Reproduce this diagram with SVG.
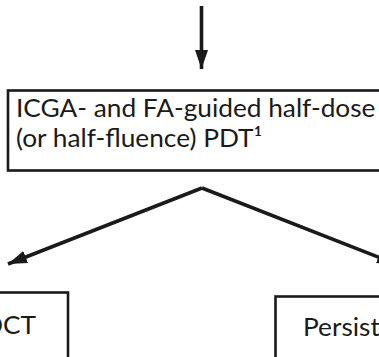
<svg xmlns="http://www.w3.org/2000/svg" width="379" height="357" viewBox="0 0 379 357">
  <style>
    .box { fill: #ffffff; stroke: #1a1a1a; stroke-width: 2.6; }
    .lbl { font-family: Lato, "Open Sans", "Liberation Sans", sans-serif; font-size: 25px; fill: #1a1a1a; }
    .edge { fill: none; stroke: #1a1a1a; stroke-width: 3.6; stroke-linecap: butt; }
  </style>
  <defs>
    <marker id="head" markerUnits="userSpaceOnUse" markerWidth="20" markerHeight="14" refX="19" refY="7" orient="auto">
      <path d="M0,0.5 L19,7 L0,13.5 Z" fill="#1a1a1a"/>
    </marker>
  </defs>
  <rect width="379" height="357" fill="#ffffff"/>

  <g id="connectors">
    <line class="edge" x1="201.5" y1="6" x2="201.5" y2="69" marker-end="url(#head)"/>
    <line class="edge" x1="202" y1="188" x2="8" y2="264" marker-end="url(#head)"/>
    <line class="edge" x1="202" y1="188" x2="396" y2="264" marker-end="url(#head)"/>
  </g>

  <g id="pdt">
    <rect class="box" x="8" y="90.5" width="400" height="80"/>
    <text class="lbl" transform="translate(16,117) scale(1.05,1)">ICGA- and FA-guided half-dose</text>
    <text class="lbl" transform="translate(16,147) scale(1.05,1)">(or half-fluence) PDT¹</text>
  </g>

  <g id="oct">
    <rect class="box" x="-40" y="292.5" width="108" height="80"/>
    <text class="lbl" text-anchor="end" transform="translate(36,334) scale(1.05,1)">OCT</text>
  </g>

  <g id="persist">
    <rect class="box" x="275.5" y="296.5" width="140" height="80"/>
    <text class="lbl" transform="translate(303,336) scale(1.05,1)">Persist</text>
  </g>
</svg>
